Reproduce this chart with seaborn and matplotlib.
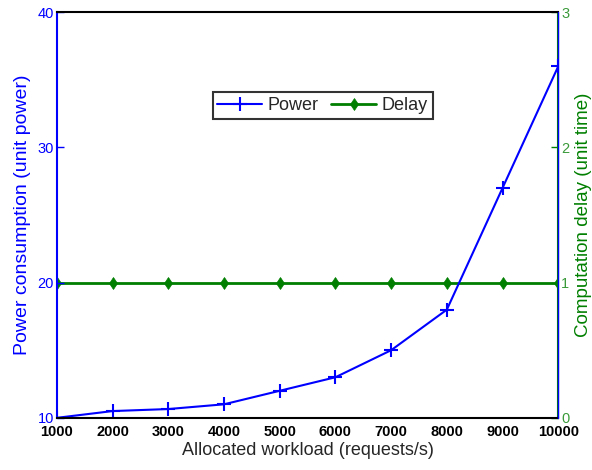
import matplotlib
matplotlib.use("Agg")
import matplotlib.pyplot as plt
import seaborn as sns
import pandas as pd

workload = [1000, 2000, 3000, 4000, 5000, 6000, 7000, 8000, 9000, 10000]
power = [10, 10.5, 10.65, 11, 12, 13, 15, 18, 27, 36]
delay = [1, 1, 1, 1, 1, 1, 1, 1, 1, 1]
x_ticks = [1000, 2000, 3000, 4000, 5000, 6000, 7000, 8000, 9000, 10000]
left_ticks = [10, 20, 30, 40]
right_ticks = [0, 1, 2, 3]

sns.set_style("white")
plt.rcParams['font.family'] = ['Liberation Sans', 'DejaVu Sans']

df = pd.DataFrame({"workload": workload, "power": power, "delay": delay})

fig = plt.figure(figsize=(5.92, 4.70), dpi=100)
ax = fig.add_axes([0.096, 0.111, 0.847, 0.863])
ax2 = ax.twinx()

BLUE = "#0000ff"
GREEN = "#007f00"

sns.lineplot(data=df, x="workload", y="delay", ax=ax2, color=GREEN, marker="d",
             markersize=6, markeredgewidth=0.5, markeredgecolor=GREEN, markerfacecolor=GREEN,
             linewidth=2, label="Delay", legend=False)
sns.lineplot(data=df, x="workload", y="power", ax=ax, color=BLUE, marker="+",
             markersize=10, markeredgewidth=1.5, markeredgecolor=BLUE,
             linewidth=1.5, label="Power", legend=False)

ax.set_xlim(1000, 10000)
ax.set_ylim(10, 40)
ax2.set_ylim(0, 3)
ax.set_xticks(x_ticks)
ax.set_yticks(left_ticks)
ax2.set_yticks(right_ticks)

ax.set_xlabel("Allocated workload (requests/s)", fontsize=13, labelpad=2)
ax.set_ylabel("Power consumption (unit power)", fontsize=14, color=BLUE, labelpad=5)
ax2.set_ylabel("Computation delay (unit time)", fontsize=13.5, color=GREEN, labelpad=4)

ax.tick_params(axis='x', direction='in', length=5, width=1.2, colors='black', labelsize=10.5, pad=5)
ax.tick_params(axis='y', direction='in', length=5, width=1, colors=BLUE, labelsize=10.5, pad=2)
ax2.tick_params(axis='y', direction='in', length=5, width=1, colors=GREEN, labelsize=10.5, pad=2)
for lbl in ax.get_xticklabels():
    lbl.set_fontweight('bold')
for lbl in ax2.get_yticklabels():
    lbl.set_color("#3a9a3a")

ax.spines['left'].set_color(BLUE)
ax.spines['left'].set_linewidth(1.5)
ax.spines['bottom'].set_color('black')
ax.spines['bottom'].set_linewidth(1.5)
ax.spines['top'].set_color('black')
ax.spines['top'].set_linewidth(1.5)
ax.spines['right'].set_visible(False)
for s in ['left', 'bottom', 'top']:
    ax2.spines[s].set_visible(False)
ax2.spines['right'].set_color(GREEN)
ax2.spines['right'].set_linewidth(1.5)
ax.axvline(10000, color=BLUE, linewidth=1.0, zorder=5, clip_on=False)

ax.set_zorder(ax2.get_zorder() + 1)
ax.patch.set_visible(False)

h1, l1 = ax.get_legend_handles_labels()
h2, l2 = ax2.get_legend_handles_labels()
leg = ax.legend(h1 + h2, l1 + l2, loc='center', bbox_to_anchor=(0.53, 0.77), ncol=2,
                frameon=True, fancybox=False, fontsize=13, handlelength=2.5,
                columnspacing=0.7, handletextpad=0.3, borderpad=0.25,
                borderaxespad=0)
leg.get_frame().set_edgecolor('black')
leg.get_frame().set_linewidth(1.5)

fig.savefig("out.png", dpi=100)
